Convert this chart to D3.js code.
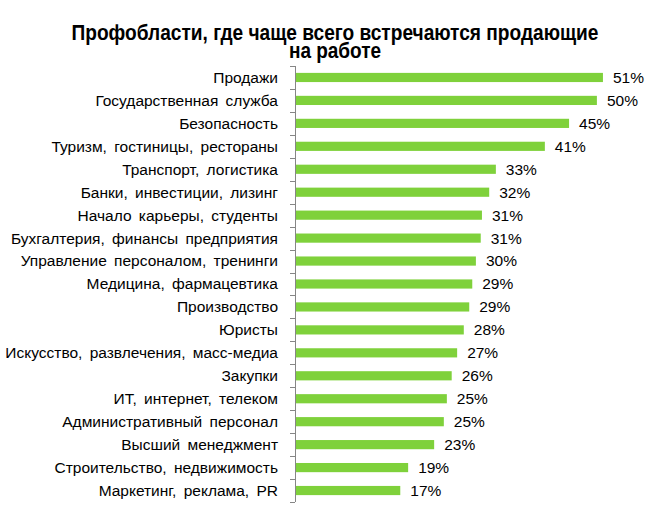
<!DOCTYPE html>
<html>
<head>
<meta charset="utf-8">
<script src="https://cdn.jsdelivr.net/npm/d3@7"></script>
<style>
  body { margin: 0; background: #fff; }
  svg { display: block; font-family: "Liberation Sans", Arial, sans-serif; }
</style>
</head>
<body>
<div class="chart"></div>
<script>
// chart data
var titleLines = ["Профобласти, где чаще всего встречаются продающие", "на работе"];

var categories = [
    "Продажи",
    "Государственная служба",
    "Безопасность",
    "Туризм, гостиницы, рестораны",
    "Транспорт, логистика",
    "Банки, инвестиции, лизинг",
    "Начало карьеры, студенты",
    "Бухгалтерия, финансы предприятия",
    "Управление персоналом, тренинги",
    "Медицина, фармацевтика",
    "Производство",
    "Юристы",
    "Искусство, развлечения, масс-медиа",
    "Закупки",
    "ИТ, интернет, телеком",
    "Административный персонал",
    "Высший менеджмент",
    "Строительство, недвижимость",
    "Маркетинг, реклама, PR"
];

// percent (labels show the rounded value)
var values = [50.9, 49.9, 45.3, 41.3, 33.2, 32.1, 30.9, 30.7, 29.9, 29.3,
              28.8, 27.9, 26.8, 25.9, 25.1, 24.6, 23.0, 18.7, 17.4];

var w = 654, h = 510;
var x0 = 295, yTop = 66, yBottom = 502;

var svg = d3.select(".chart").append("svg")
    .attr("width", w)
    .attr("height", h);

var x_scale = d3.scaleLinear().domain([0, 60]).range([x0, x0 + 363]);
var y_scale = d3.scaleBand().domain(categories).range([yTop, yBottom])
    .paddingInner(0.6).paddingOuter(0.3);

// title
svg.selectAll(".title").data(titleLines).enter().append("text")
    .attr("class", "title")
    .attr("transform", function(d, i) { return "translate(335," + (i == 0 ? 39.5 : 58) + ") scale(1,1.18)"; })
    .attr("text-anchor", "middle")
    .attr("font-size", 19)
    .attr("font-weight", "bold")
    .attr("fill", "#000")
    .attr("textLength", function(d, i) { return i == 0 ? 527 : null; })
    .attr("lengthAdjust", "spacingAndGlyphs")
    .text(function(d) { return d; });

// category labels
var yAxis = d3.axisLeft(y_scale).tickSize(0).tickPadding(17);
var gy = svg.append("g").attr("transform", "translate(" + x0 + ",0)").call(yAxis);
gy.select(".domain").remove();
gy.selectAll("text")
    .attr("font-family", "Liberation Sans, Arial, sans-serif")
    .attr("font-size", 15.5)
    .attr("word-spacing", 3)
    .attr("fill", "#000")
    .attr("dy", "0.35em");

// axis line + ticks between categories
var step = y_scale.step();
var bounds = d3.range(categories.length + 1).map(function(i) { return yTop + i * step; });
svg.append("line")
    .attr("x1", x0 + 0.5).attr("x2", x0 + 0.5)
    .attr("y1", yTop).attr("y2", yBottom)
    .attr("stroke", "#868686");
svg.selectAll(".tick-mark").data(bounds).enter().append("line")
    .attr("class", "tick-mark")
    .attr("x1", x0 - 5).attr("x2", x0)
    .attr("y1", function(d) { return Math.round(d) + 0.5; })
    .attr("y2", function(d) { return Math.round(d) + 0.5; })
    .attr("stroke", "#868686");

// bars
svg.selectAll(".bar").data(values).enter().append("rect")
    .attr("class", "bar")
    .attr("x", x_scale(0) + 1)
    .attr("y", function(d, i) { return y_scale(categories[i]); })
    .attr("width", function(d) { return x_scale(d) - x_scale(0) - 1; })
    .attr("height", y_scale.bandwidth())
    .attr("fill", "#7FD13B");

// value labels
svg.selectAll(".val").data(values).enter().append("text")
    .attr("class", "val")
    .attr("x", function(d) { return x_scale(d) + 10; })
    .attr("y", function(d, i) { return y_scale(categories[i]) + y_scale.bandwidth() / 2; })
    .attr("dy", "0.35em")
    .attr("font-size", 15.5)
    .attr("fill", "#000")
    .text(function(d) { return d3.format(".0f")(d) + "%"; });
</script>
</body>
</html>
